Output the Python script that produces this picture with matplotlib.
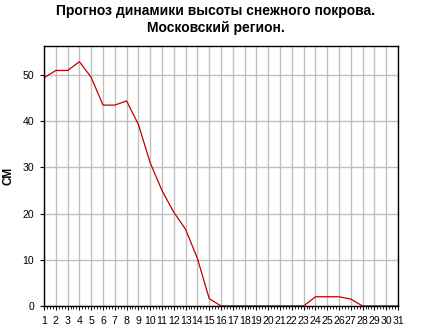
import matplotlib
matplotlib.use("Agg")
import matplotlib.pyplot as plt
from matplotlib.ticker import MultipleLocator

days = list(range(1, 32))
snow_cm = [49.4, 51.0, 51.0, 52.9, 49.5, 43.5, 43.5, 44.4, 39.3, 31.0,
           25.0, 20.3, 16.6, 10.3, 1.6, 0, 0, 0, 0, 0,
           0, 0, 0, 2.0, 2.0, 2.0, 1.5, 0, 0, 0, 0]
title = "Прогноз динамики высоты снежного покрова.\nМосковский регион."
ylabel = "СМ"
yticks = [0, 10, 20, 30, 40, 50]

plt.rcParams['font.family'] = ['Liberation Sans', 'DejaVu Sans']

fig = plt.figure(figsize=(4.31, 3.36), dpi=100)
ax = fig.add_axes([44/431, 1-306/336, (398-44)/431, (306-46)/336])

ax.plot(days, snow_cm, color='#c00000', lw=0.9)
ax.set_xlim(1, 31)
ax.set_ylim(0, 56.3)
ax.set_xticks(days)
ax.set_xticklabels([str(d) for d in days], fontsize=7.6)
ax.xaxis.set_minor_locator(MultipleLocator(0.25))
ax.set_yticks(yticks)
ax.set_yticklabels([str(v) for v in yticks], fontsize=7.6)
ax.grid(True, color='#c0c0c0', lw=1.0)
ax.set_axisbelow(True)
ax.tick_params(axis='x', which='major', length=3, width=0.8, pad=4)
ax.tick_params(axis='x', which='minor', length=2, width=0.6)
ax.tick_params(axis='y', which='major', length=3, width=0.8, pad=4)
ax.set_ylabel(ylabel, fontsize=8.5, fontweight='bold')
ax.yaxis.set_label_coords((14-44)/354, 0.5)
for s in ax.spines.values():
    s.set_color('black')
    s.set_linewidth(1.0)

fig.text(0.5, 1-4/336, title, ha='center', va='top', fontsize=10, fontweight='bold', linespacing=1.3)

fig.savefig('out.png', dpi=100)
